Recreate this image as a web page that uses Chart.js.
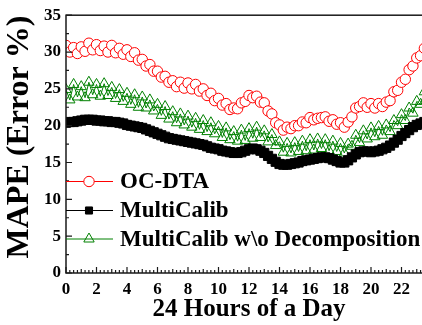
<!DOCTYPE html>
<html>
<head>
<meta charset="utf-8">
<script src="https://cdn.jsdelivr.net/npm/chart.js@4"></script>
<style>
  html, body { margin: 0; padding: 0; overflow: hidden; background: #fff; }
  #wrap { width: 440px; height: 325px; }
</style>
</head>
<body>
<div id="wrap"><canvas id="mapeChart" width="440" height="325"></canvas></div>
<script>
// 15-minute slots over one day
const hours = Array.from({ length: 96 }, (_, i) => i / 4);

const ocDta = [
  30.9, 30.0, 30.6, 29.8,  30.7, 30.1, 31.2, 30.3,  31.0, 30.2, 30.8, 30.0,
  30.9, 29.9, 30.5, 29.7,  30.3, 29.4, 29.9, 28.9,  29.0, 28.1, 28.3, 27.4,
  27.4, 26.6, 26.7, 25.9,  26.1, 25.3, 25.9, 25.1,  25.8, 25.0, 25.6, 24.7,
  25.0, 24.1, 24.4, 23.4,  23.7, 22.8, 23.0, 22.2,  22.4, 22.3, 23.1, 23.3,
  24.1, 23.8, 24.0, 23.2,  23.1, 22.0, 21.6, 20.4,  20.1, 19.4, 19.8, 19.6,
  20.0, 20.0, 20.5, 20.4,  21.1, 20.8, 21.0, 21.1,  21.2, 20.6, 20.8, 20.2,
  20.4, 19.8, 20.5, 21.2,  22.4, 22.6, 23.1, 22.5,  23.0, 22.4, 23.0, 22.6,
  23.2, 23.4, 24.6, 24.8,  25.9, 26.3, 27.6, 28.1,  29.2, 29.5, 30.5, 30.7
];

const multiCalib = [
  20.4, 20.5, 20.5, 20.6,  20.7, 20.8, 20.8, 20.8,  20.7, 20.7, 20.6, 20.6,
  20.5, 20.5, 20.4, 20.3,  20.1, 20.0, 19.9, 19.8,  19.7, 19.5, 19.3, 19.1,
  18.9, 18.7, 18.5, 18.3,  18.2, 18.1, 18.0, 17.9,  17.8, 17.7, 17.6, 17.5,
  17.4, 17.2, 17.0, 16.9,  16.8, 16.6, 16.5, 16.4,  16.3, 16.3, 16.4, 16.6,
  16.8, 16.9, 16.8, 16.6,  16.3, 15.9, 15.5, 15.1,  14.8, 14.7, 14.7, 14.8,
  14.9, 15.0, 15.2, 15.3,  15.4, 15.5, 15.6, 15.7,  15.7, 15.6, 15.4, 15.2,
  15.0, 15.0, 15.3, 15.7,  16.1, 16.4, 16.5, 16.5,  16.4, 16.5, 16.6, 16.8,
  17.0, 17.3, 17.7, 18.1,  18.6, 19.0, 19.4, 19.8,  20.1, 20.3, 20.5, 20.6
];

const multiCalibNoDecomp = [
  24.9, 23.5, 25.6, 23.9,  25.3, 23.8, 25.9, 24.2,  25.6, 24.0, 25.7, 24.1,
  25.2, 23.7, 24.9, 23.3,  24.4, 22.9, 24.2, 22.5,  23.9, 22.4, 23.5, 22.0,
  22.9, 21.4, 22.6, 20.9,  21.9, 20.4, 21.6, 20.1,  21.3, 19.8, 21.0, 19.5,
  20.7, 19.2, 20.4, 18.9,  19.9, 18.4, 19.7, 18.1,  19.2, 17.9, 19.4, 18.0,
  19.6, 18.3, 19.8, 18.4,  19.3, 17.8, 18.8, 17.3,  17.8, 16.4, 17.6, 16.3,
  17.7, 16.5, 17.9, 16.6,  18.1, 16.7, 18.2, 16.9,  18.1, 16.6, 17.9, 16.5,
  17.6, 16.3, 17.5, 17.2,  18.7, 17.7, 19.3, 18.2,  19.7, 18.5, 19.9, 18.7,
  20.1, 19.2, 20.7, 20.0,  21.5, 20.7, 22.4, 21.7,  23.3, 22.9, 24.6, 24.3
];

const seriesNames = ['OC-DTA', 'MultiCalib', 'MultiCalib w\\o Decomposition'];

const serif = '"Liberation Serif", "Times New Roman", serif';

function pairs(values) {
  return values.map((v, i) => ({ x: hours[i], y: v }));
}

// box, inward ticks, y title and the in-plot legend
const frameAndLegend = {
  id: 'frameAndLegend',
  afterDatasetsDraw(chart) {
    const { ctx, chartArea: a, scales: { x, y } } = chart;
    ctx.save();
    ctx.strokeStyle = '#1a1a1a';
    ctx.lineWidth = 1.5;
    ctx.strokeRect(a.left, a.top, a.right - a.left, a.bottom - a.top);

    ctx.lineWidth = 1.2;
    ctx.beginPath();
    for (let v = 0; v <= 35; v += 2.5) {
      const py = y.getPixelForValue(v);
      const len = v % 5 === 0 ? 6 : 3;
      ctx.moveTo(a.left, py);
      ctx.lineTo(a.left + len, py);
    }
    for (let h = 0; h <= 24; h += 0.25) {
      const px = x.getPixelForValue(h);
      const len = h % 2 === 0 ? 6 : (h % 1 === 0 ? 4 : 3);
      ctx.moveTo(px, a.bottom);
      ctx.lineTo(px, a.bottom - len);
    }
    ctx.stroke();

    // y axis title
    ctx.save();
    ctx.translate(20, 137);
    ctx.rotate(-Math.PI / 2);
    ctx.font = 'bold 32px ' + serif;
    ctx.textAlign = 'center';
    ctx.textBaseline = 'middle';
    ctx.fillStyle = '#000';
    ctx.fillText('MAPE (Error %)', 0, 0);
    ctx.restore();

    // legend
    const rows = [181.5, 210.5, 239];
    chart.data.datasets.forEach((ds, i) => {
      const ly = rows[i];
      ctx.strokeStyle = ds.borderColor;
      ctx.lineWidth = 1;
      ctx.beginPath();
      ctx.moveTo(a.left, ly);
      ctx.lineTo(a.left + 47, ly);
      ctx.stroke();
      ctx.fillStyle = ds.pointBackgroundColor;
      ctx.strokeStyle = ds.pointBorderColor;
      Chart.helpers.drawPoint(ctx, {
        pointStyle: ds.pointStyle,
        radius: ds.pointStyle === 'rect' ? 5 : ds.pointRadius,
        borderWidth: 1
      }, a.left + 23, ly);
      ctx.font = 'bold 23px ' + serif;
      ctx.textBaseline = 'middle';
      ctx.textAlign = 'left';
      ctx.fillStyle = '#000';
      ctx.fillText(seriesNames[i], a.left + 54, ly + 1);
    });
    ctx.restore();
  }
};

new Chart(document.getElementById('mapeChart'), {
  type: 'line',
  data: {
    datasets: [
      {
        label: seriesNames[0],
        data: pairs(ocDta),
        borderColor: '#ff0000',
        borderWidth: 1,
        pointStyle: 'circle',
        pointRadius: 5.2,
        pointBorderWidth: 1,
        pointBackgroundColor: '#ffffff',
        pointBorderColor: '#ff0000'
      },
      {
        label: seriesNames[1],
        data: pairs(multiCalib),
        borderColor: '#000000',
        borderWidth: 1,
        pointStyle: 'rect',
        pointRadius: 6.5,
        pointBorderWidth: 1,
        pointBackgroundColor: '#000000',
        pointBorderColor: '#000000'
      },
      {
        label: seriesNames[2],
        data: pairs(multiCalibNoDecomp),
        borderColor: '#008000',
        borderWidth: 1,
        pointStyle: 'triangle',
        pointRadius: 6,
        pointBorderWidth: 1,
        pointBackgroundColor: 'rgba(255,255,255,0)',
        pointBorderColor: '#008000'
      }
    ]
  },
  options: {
    responsive: false,
    animation: false,
    layout: { padding: { top: 10, right: 8, left: 0, bottom: 0 } },
    plugins: { legend: { display: false }, tooltip: { enabled: false } },
    elements: { line: { tension: 0 } },
    scales: {
      x: {
        type: 'linear',
        min: 0,
        max: 24,
        grid: { display: false, drawTicks: false },
        border: { display: false },
        ticks: {
          stepSize: 2,
          padding: 6,
          color: '#000',
          maxRotation: 0,
          font: { family: serif, size: 17, weight: 'bold' },
          callback: v => (v === 24 ? '' : v)
        },
        title: {
          display: true,
          text: '24 Hours of a Day',
          color: '#000',
          padding: { top: 0, bottom: 0 },
          font: { family: serif, size: 25, weight: 'bold' }
        },
        afterFit: s => { s.height = 52; }
      },
      y: {
        min: 0,
        max: 35,
        grid: { display: false, drawTicks: false },
        border: { display: false },
        ticks: {
          stepSize: 5,
          padding: 5,
          color: '#000',
          font: { family: serif, size: 17, weight: 'bold' }
        },
        afterFit: s => { s.width = 66; }
      }
    }
  },
  plugins: [frameAndLegend]
});
</script>
</body>
</html>
